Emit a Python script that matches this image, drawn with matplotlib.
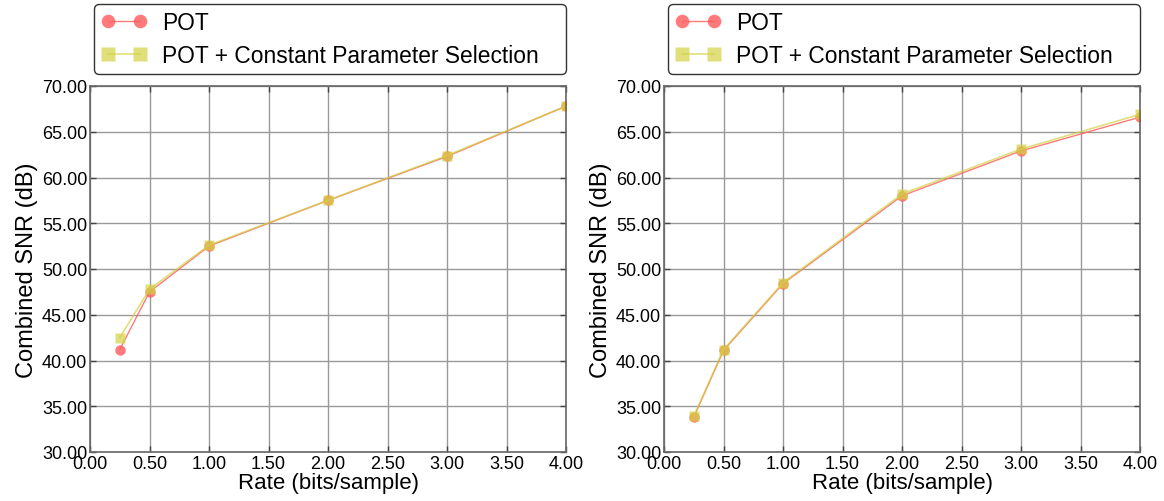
import numpy as np
import matplotlib.pyplot as plt

plt.rcParams['font.family'] = ['Liberation Sans', 'DejaVu Sans']

rates = [0.25, 0.5, 1.0, 2.0, 3.0, 4.0]

# left panel
pot_a = [41.2, 47.5, 52.5, 57.5, 62.3, 67.8]
cps_a = [42.5, 47.8, 52.6, 57.5, 62.4, 67.8]
# right panel
pot_b = [33.8, 41.1, 48.4, 58.0, 62.9, 66.6]
cps_b = [33.9, 41.2, 48.5, 58.2, 63.1, 66.9]

labels = ['POT', 'POT + Constant Parameter Selection']

fig = plt.figure(figsize=(11.64, 5.02), dpi=100)
ax1 = fig.add_axes([90 / 1164, 1 - 453 / 502, 476 / 1164, 366 / 502])
ax2 = fig.add_axes([664 / 1164, 1 - 453 / 502, 476 / 1164, 366 / 502])

for ax, pot, cps in [(ax1, pot_a, cps_a), (ax2, pot_b, cps_b)]:
    ax.plot(rates, pot, '-o', color='#ff6464', alpha=0.85, lw=1.0,
            ms=7.5, mec='none', label=labels[0])
    ax.plot(rates, cps, '-s', color='#d2d244', alpha=0.7, lw=1.2,
            ms=7.5, mec='none', label=labels[1])
    ax.set_xlim(0, 4)
    ax.set_ylim(30, 70)
    ax.set_xticks(np.arange(0, 4.01, 0.5))
    ax.set_yticks(np.arange(30, 70.01, 5))
    ax.xaxis.set_major_formatter('{x:.2f}')
    ax.yaxis.set_major_formatter('{x:.2f}')
    ax.grid(True, color='#999999', lw=1.0)
    ax.tick_params(direction='in', length=4, width=1, color='#444444',
                   labelsize=13, top=True, right=True, pad=2)
    for s in ax.spines.values():
        s.set_color('#666666')
        s.set_linewidth(1.2)
    ax.set_xlabel('Rate (bits/sample)', fontsize=16, labelpad=0)
    ax.set_ylabel('Combined SNR (dB)', fontsize=17, labelpad=3)
    leg = ax.legend(loc='lower left',
                    bbox_to_anchor=(4 / 476, 1.033, 1 - 4 / 476, 0.2),
                    mode='expand', fontsize=16.4, frameon=True, fancybox=True,
                    borderaxespad=0, handlelength=2.0, labelspacing=0.45,
                    borderpad=0.3, numpoints=2, markerscale=1.3,
                    handletextpad=0.7)
    leg.get_frame().set_edgecolor('black')
    leg.get_frame().set_linewidth(1.0)

fig.savefig('out.png', dpi=100)
